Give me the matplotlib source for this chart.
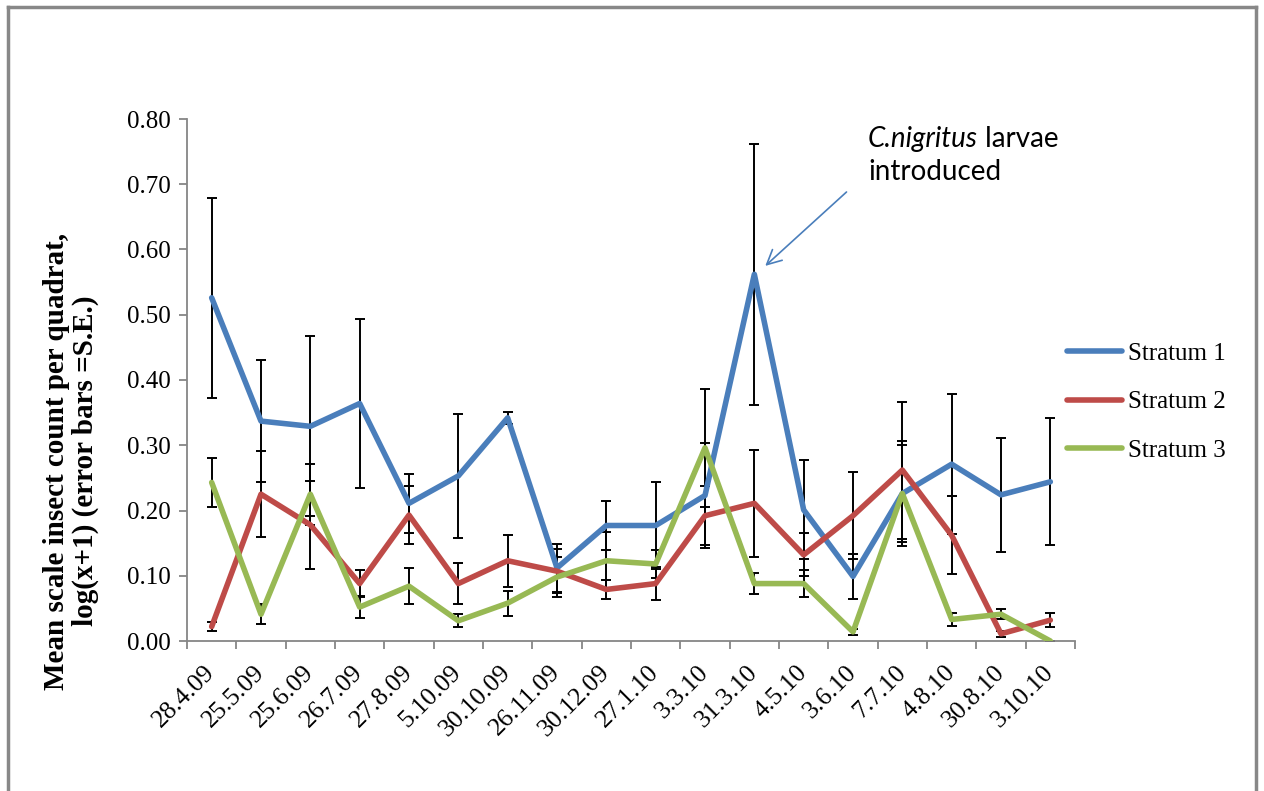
import numpy as np
import matplotlib
matplotlib.use('Agg')
import matplotlib.pyplot as plt

# sampling dates
dates = ['28.4.09', '25.5.09', '25.6.09', '26.7.09', '27.8.09', '5.10.09',
         '30.10.09', '26.11.09', '30.12.09', '27.1.10', '3.3.10', '31.3.10',
         '4.5.10', '3.6.10', '7.7.10', '4.8.10', '30.8.10', '3.10.10']

# mean log(x+1) counts and standard errors per stratum
s1_mean = [0.526, 0.337, 0.329, 0.364, 0.211, 0.253, 0.342, 0.112, 0.177, 0.177,
           0.223, 0.562, 0.201, 0.099, 0.226, 0.271, 0.224, 0.244]
s1_se = [0.153, 0.093, 0.138, 0.130, 0.045, 0.095, 0.009, 0.037, 0.038, 0.066,
         0.080, 0.200, 0.076, 0.035, 0.080, 0.107, 0.087, 0.097]

s2_mean = [0.022, 0.225, 0.178, 0.088, 0.193, 0.088, 0.123, 0.107, 0.079, 0.088,
           0.192, 0.211, 0.132, 0.192, 0.262, 0.162, 0.011, 0.032]
s2_se = [0.007, 0.066, 0.067, 0.021, 0.044, 0.031, 0.040, 0.034, 0.015, 0.025,
         0.045, 0.082, 0.033, 0.067, 0.105, 0.060, 0.005, 0.011]

s3_mean = [0.243, 0.041, 0.225, 0.052, 0.084, 0.031, 0.058, 0.098, 0.123, 0.118,
           0.296, 0.088, 0.088, 0.014, 0.226, 0.033, 0.041, 0.000]
s3_se = [0.037, 0.015, 0.047, 0.017, 0.028, 0.010, 0.019, 0.030, 0.044, 0.022,
         0.090, 0.016, 0.021, 0.005, 0.075, 0.010, 0.008, 0.000]

labels = ['Stratum 1', 'Stratum 2', 'Stratum 3']
colors = ['#4A7EBB', '#BE4B48', '#98B954']

serif = 'Liberation Serif'
W, H = 1264, 791

fig = plt.figure(figsize=(W / 100., H / 100.), dpi=100, facecolor='white')
ax = fig.add_axes([187. / W, 1 - 641. / H, (1075. - 187.) / W, (641. - 119.) / H])

x = np.arange(len(dates))
series = [(s1_mean, s1_se), (s2_mean, s2_se), (s3_mean, s3_se)]
for (m, se), lab, c in zip(series, labels, colors):
    ax.errorbar(x, m, yerr=se, fmt='none', ecolor='black', elinewidth=1.4,
                capsize=3.5, capthick=1.4, zorder=2)
    ax.plot(x, m, color=c, lw=4, label=lab, zorder=3, solid_capstyle='round')

ax.set_xlim(-0.5, len(dates) - 0.5)
ax.set_ylim(0, 0.8)
ax.set_yticks(np.arange(0, 0.81, 0.1))
ax.set_yticklabels(['%.2f' % v for v in np.arange(0, 0.81, 0.1)],
                   family=serif, fontsize=18)
ax.set_xticks(x)
ax.set_xticklabels(dates, rotation=45, ha='right', va='center',
                   rotation_mode='anchor', family=serif, fontsize=18.5)
ax.set_xticks(np.arange(-0.5, len(dates), 1), minor=True)
ax.tick_params(axis='x', which='major', length=0, pad=20)
ax.tick_params(axis='x', which='minor', length=6, width=1.3, color='#868686',
               direction='out')
ax.tick_params(axis='y', length=6, width=1.3, color='#868686', direction='out', pad=6)

for s in ['top', 'right']:
    ax.spines[s].set_visible(False)
for s in ['left', 'bottom']:
    ax.spines[s].set_color('#868686')
    ax.spines[s].set_linewidth(1.3)

fig.text(71. / W, 1 - 461. / H,
         'Mean scale insect count per quadrat,\nlog(x+1) (error bars =S.E.)',
         rotation=90, ha='center', va='center', family=serif, fontsize=21,
         fontweight='bold', linespacing=1.05, multialignment='center')

# annotation for the release of the predator
t1 = fig.text(868. / W, 1 - 147. / H, 'C.nigritus', style='italic',
              family='Lato', fontsize=20, va='baseline')
ax.annotate(' larvae', xy=(1, 0), xycoords=t1, va='bottom', family='Lato',
            fontsize=20, annotation_clip=False)
fig.text(868. / W, 1 - 180. / H, 'introduced', family='Lato', fontsize=20,
         va='baseline')
ax.annotate('', xy=(11.18, 0.572), xytext=(12.91, 0.691),
            arrowprops=dict(arrowstyle='->', color='#4A7EBB', lw=1.2,
                            mutation_scale=26))

leg = fig.legend(loc='center left', bbox_to_anchor=(1067. / W, 1 - 402. / H),
                 frameon=False, prop={'family': serif, 'size': 18},
                 handlelength=2.2, handletextpad=0.25, labelspacing=1.05,
                 borderpad=0, borderaxespad=0)

# outer chart frame
for coords in [([8, 8], [7, 791]), ([8, 1256], [7, 7]), ([1256, 1256], [7, 791])]:
    fig.add_artist(plt.Line2D([c / W for c in coords[0]],
                              [1 - c / H for c in coords[1]],
                              color='#888888', lw=2.5))

plt.savefig('out.png', dpi=100)
